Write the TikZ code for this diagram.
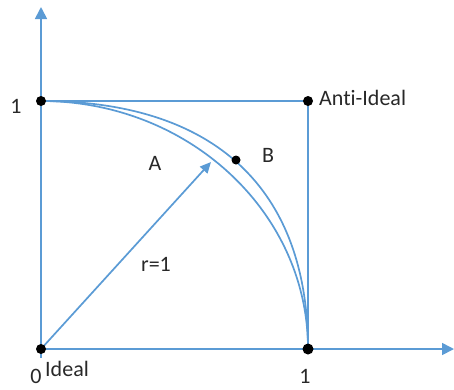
\documentclass[tikz,border=0pt]{standalone}
\usepackage{fontspec}
\setmainfont{Carlito}[Ligatures={NoCommon}]
\usetikzlibrary{arrows.meta}
\definecolor{lineblue}{RGB}{91,155,213}
\definecolor{txt}{RGB}{40,40,40}
\tikzset{
  ln/.style={draw=lineblue, line width=1.7pt},
  dot/.style={circle, fill=black, inner sep=0pt, minimum size=10pt},
  lbl/.style={text=txt, font=\fontsize{22}{25}\selectfont, inner sep=0pt},
  axarrow/.style={-{Triangle[length=12pt,width=12pt]}},
}
\begin{document}
\begin{tikzpicture}[x=1pt,y=-1pt]
\useasboundingbox (0,0) rectangle (454,389);
% named points
\coordinate (O) at (41,349);
\coordinate (Ybot) at (41,358);
\coordinate (Ytop) at (41,7);
\coordinate (Xend) at (454,349);
\coordinate (P01) at (41,101);
\coordinate (P10) at (308,349);
\coordinate (P11) at (308,101);
\coordinate (Tip) at (211,162);
\coordinate (Bpt) at (236,160);
% axes
\draw[ln, axarrow] (Ybot) -- (Ytop);
\draw[ln, axarrow] (O) -- (Xend);
% square
\draw[ln] (P01) -- (P11) -- (P10);
% arcs
\draw[ln] (P01) .. controls (188.5,101) and (308,212) .. (P10);
\draw[ln] (P01) .. controls (214,101) and (308,188) .. (P10);
% radius arrow
\draw[ln, -{Triangle[length=11pt,width=10pt]}] (O) -- (Tip);
% dots
\node[dot] (d1) at (P01) {};
\node[dot] (d2) at (P11) {};
\node[dot] (d3) at (O) {};
\node[dot, minimum size=11pt] (d4) at (P10) {};
\node[dot, minimum size=9pt] (d5) at (Bpt) {};
% labels
\node[lbl] (l1y) at (16,106) {1};
\node[lbl, anchor=west] (lanti) at (319,98) {Anti-Ideal};
\node[lbl] (lB) at (268,155) {B};
\node[lbl] (lA) at (155,163) {A};
\node[lbl] (lr) at (156,264) {r=1};
\node[lbl, anchor=west] (lideal) at (45,369) {Ideal};
\node[lbl] (l0) at (36,376) {0};
\node[lbl] (l1x) at (305,376) {1};
\end{tikzpicture}
\end{document}
